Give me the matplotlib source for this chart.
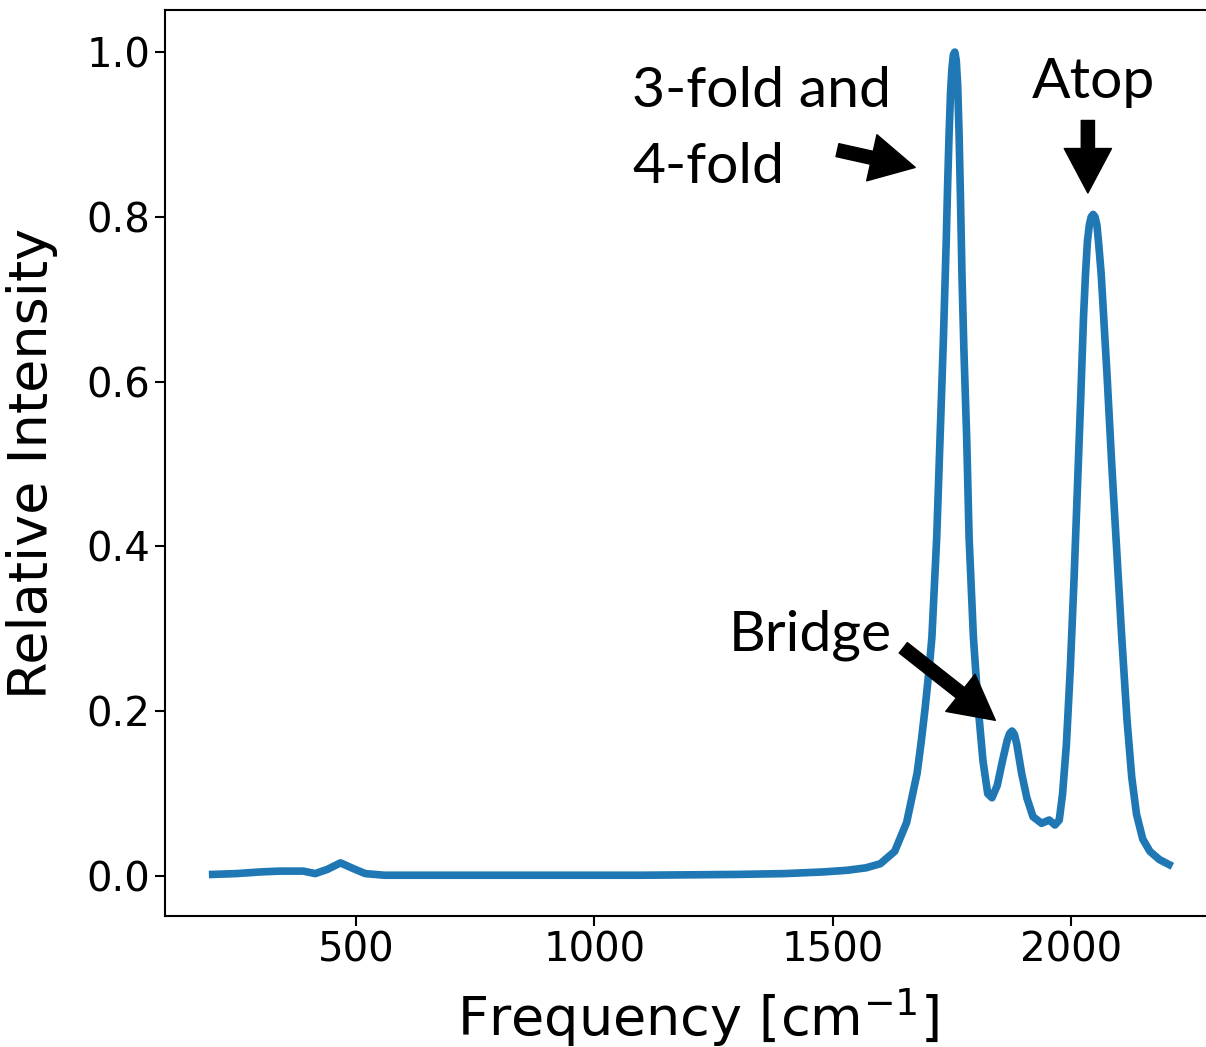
import numpy as np
import matplotlib
matplotlib.use('Agg')
import matplotlib.pyplot as plt

# spectrum
freq = [200, 250, 300, 340, 390, 415, 440, 468, 495, 520, 560, 700, 900, 1100,
        1300, 1400, 1480, 1530, 1570, 1600, 1630, 1655, 1677, 1686, 1694, 1702,
        1708, 1713, 1718, 1725, 1732, 1738, 1741, 1744, 1747, 1750, 1753, 1756,
        1759, 1762, 1765, 1768, 1771, 1775, 1781, 1786, 1795, 1805, 1815, 1825,
        1834, 1845, 1856, 1866, 1871, 1876, 1881, 1886, 1896, 1907, 1920, 1938,
        1954, 1966, 1975, 1982, 1990, 1998, 2006, 2013, 2020, 2026, 2030, 2034,
        2038, 2042, 2046, 2050, 2054, 2058, 2063, 2068, 2075, 2085, 2095, 2106,
        2117, 2127, 2137, 2150, 2165, 2185, 2205]
intensity = [0.002, 0.003, 0.005, 0.006, 0.006, 0.003, 0.008, 0.016, 0.009, 0.003,
             0.001, 0.001, 0.001, 0.001, 0.002, 0.003, 0.005, 0.007, 0.010, 0.015,
             0.030, 0.065, 0.125, 0.165, 0.205, 0.25, 0.29, 0.35, 0.41, 0.53, 0.65,
             0.77, 0.84, 0.90, 0.95, 0.98, 0.997, 1.0, 0.99, 0.96, 0.90, 0.82, 0.73,
             0.64, 0.53, 0.41, 0.29, 0.205, 0.14, 0.10, 0.095, 0.11, 0.14, 0.165,
             0.173, 0.176, 0.172, 0.16, 0.125, 0.095, 0.072, 0.064, 0.068, 0.062,
             0.068, 0.10, 0.16, 0.25, 0.36, 0.47, 0.58, 0.68, 0.73, 0.77, 0.79,
             0.80, 0.803, 0.80, 0.79, 0.765, 0.73, 0.68, 0.61, 0.50, 0.40, 0.29,
             0.19, 0.12, 0.075, 0.045, 0.030, 0.020, 0.014]

xticks = [500, 1000, 1500, 2000]
yticks = [0.0, 0.2, 0.4, 0.6, 0.8, 1.0]

fig = plt.figure(figsize=(12.06, 10.47), dpi=100)
ax = fig.add_axes([0.1368, 0.1251, 0.8831, 0.8653])

ax.plot(freq, intensity, c='#1f77b4', lw=5.5, solid_joinstyle='round')
ax.set_xlim(100, 2333)
ax.set_ylim(-0.0485, 1.051)

ax.set_xticks(xticks)
ax.set_yticks(yticks)
ax.set_yticklabels(['%.1f' % v for v in yticks])
ax.tick_params(labelsize=29, length=7, width=1.5)
for s in ax.spines.values():
    s.set_linewidth(1.5)
# the right edge of the frame is cut off in the original
ax.spines['right'].set_visible(False)

ax.set_xlabel('Frequency [cm$^{-1}$]', fontsize=39)
ax.set_ylabel('Relative Intensity', fontsize=39)
ax.xaxis.set_label_coords(0.5, -0.078)
ax.yaxis.set_label_coords(-0.1, 0.5)

tfont = dict(family='Lato', fontsize=41, va='baseline', ha='left')
ax.text(1080, 0.933, '3-fold and', **tfont)
ax.text(1080, 0.841, '4-fold', **tfont)
ax.text(1918, 0.944, 'Atop', **tfont)
ax.text(1281, 0.274, 'Bridge', **tfont)

arr = dict(arrowstyle='simple,head_length=3.2,head_width=3.4,tail_width=0.95',
           color='k', mutation_scale=10, shrinkA=0, shrinkB=0)
ax.annotate('', xy=(1673, 0.860), xytext=(1510, 0.881), arrowprops=arr)
ax.annotate('', xy=(2035, 0.829), xytext=(2035, 0.917), arrowprops=arr)
ax.annotate('', xy=(1841, 0.189), xytext=(1648, 0.277), arrowprops=arr)

plt.savefig('out.png', dpi=100)
